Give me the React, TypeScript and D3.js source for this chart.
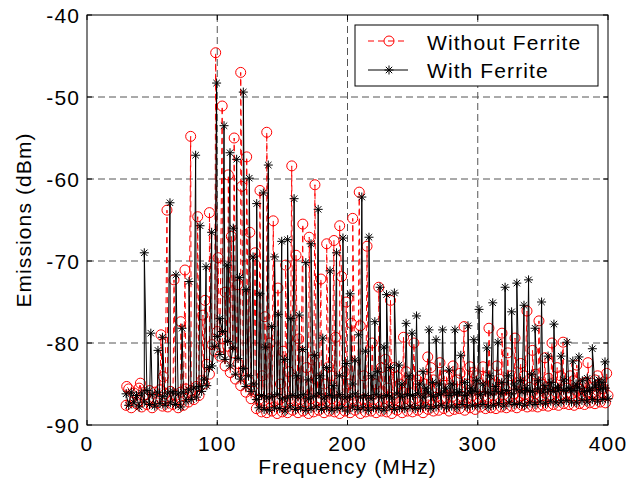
import React from "react";
import * as d3 from "d3";

// axis ticks
const xTicks = [0, 100, 200, 300, 400];
const yTicks = [-90, -80, -70, -60, -50, -40];

// noise floor, one reading every 2 MHz from 30 to 400 MHz
const floorFreqs = d3.range(30, 401, 2);

const floorWith = [
  -86.2, -87.6, -86.0, -87.3, -86.4, -87.8, -86.1, -87.2, -85.8, -87.5, -86.3, -87.7, -86.0, -87.4, -86.5,
  -87.6, -86.1, -87.3, -85.9, -87.5, -86.2, -87.8, -86.0, -87.1, -85.7, -86.9, -85.5, -86.6, -85.3, -85.9,
  -84.4, -85.2, -83.0, -82.8, -80.4,
  -79.2, -81.4, -78.6, -82.0, -79.8, -82.8, -80.6, -83.8, -81.9, -84.4, -83.1, -85.3, -84.0, -85.9, -85.0,
  -86.9, -87.9, -86.4, -88.1, -86.7, -88.2, -86.5, -87.9, -86.3, -88.0, -86.8, -88.3, -86.6, -87.8, -86.4,
  -88.1, -86.6, -87.9, -86.3, -88.2, -86.8, -88.0, -86.5, -87.8, -86.2, -88.1, -86.7, -87.9, -86.4, -88.2,
  -86.6, -88.0, -86.3, -87.9, -86.7, -88.3, -86.5, -87.8, -86.2, -88.1, -86.6, -87.9, -86.4, -88.2, -86.8,
  -87.9, -86.3, -88.0, -86.6, -88.2, -86.4, -87.8, -86.7, -88.1, -86.2, -87.9, -86.5, -88.0, -86.3, -87.8,
  -86.4, -88.0, -86.2, -87.9, -86.6, -87.7, -86.1, -88.0, -86.5, -87.8, -86.3, -87.6, -86.0, -87.9, -86.4,
  -87.7, -86.2, -87.9, -86.0, -87.5, -86.4, -87.8, -86.1, -87.6, -85.9, -87.7, -86.3, -87.5, -86.0, -87.8,
  -86.2, -87.6, -85.9, -87.4, -86.1, -87.7, -85.8, -87.3, -86.2, -87.5, -85.7, -87.4, -86.0, -87.6, -85.8,
  -87.3, -85.9, -87.5, -85.6, -87.2, -86.0, -87.4, -85.7, -87.1, -85.9, -87.3, -85.5, -87.2, -85.8, -87.0,
  -85.6, -87.2, -85.8, -87.3, -85.5, -87.0, -85.9, -87.2, -85.6, -86.9, -85.4, -87.1, -85.7, -86.9, -85.5,
  -86.8,
];

const floorWithout = [
  -87.6, -85.6, -87.9, -86.1, -87.4, -85.5, -87.8, -86.3, -87.5, -85.8, -87.9, -86.0, -87.3, -85.7, -87.7,
  -86.2, -87.8, -85.9, -87.5, -86.4, -87.9, -86.0, -87.6, -85.6, -87.2, -85.8, -86.9, -85.3, -86.4, -84.6,
  -85.0, -82.6, -83.8, -80.2, -81.0,
  -78.6, -81.6, -79.5, -82.8, -80.4, -83.6, -81.2, -84.4, -82.5, -85.2, -83.4, -86.0, -84.6, -86.8, -85.9,
  -88.0, -86.9, -88.4, -87.0, -88.5, -86.8, -88.3, -87.1, -88.6, -86.9, -88.4, -87.2, -88.5, -86.8, -88.2,
  -87.0, -88.5, -86.9, -88.3, -87.2, -88.6, -86.8, -88.4, -87.0, -88.2, -86.9, -88.5, -87.1, -88.3, -86.8,
  -88.4, -87.0, -88.6, -86.9, -88.3, -87.2, -88.5, -86.8, -88.2, -87.1, -88.6, -86.9, -88.4, -87.0, -88.3,
  -86.9, -88.5, -87.1, -88.3, -86.8, -88.4, -87.0, -88.6, -86.9, -88.2, -87.2, -88.5, -86.8, -88.3, -87.0,
  -88.4, -86.8, -88.2, -87.0, -88.5, -86.7, -88.1, -86.9, -88.3, -86.6, -88.2, -86.8, -88.0, -86.7, -88.3,
  -86.6, -88.1, -86.9, -88.0, -86.5, -88.2, -86.7, -87.9, -86.4, -88.1, -86.8, -87.8, -86.5, -88.0, -86.6,
  -87.9, -86.4, -88.0, -86.7, -87.8, -86.3, -87.9, -86.6, -87.7, -86.2, -87.9, -86.5, -87.6, -86.3, -87.8,
  -86.4, -87.7, -86.2, -87.8, -86.5, -87.6, -86.1, -87.7, -86.4, -87.5, -86.0, -87.6, -86.3, -87.4, -86.1,
  -87.5, -86.2, -87.6, -85.9, -87.4, -86.3, -87.5, -86.0, -87.3, -86.2, -87.4, -85.8, -87.2, -86.1, -87.3,
  -86.4,
];

// emission peaks [MHz, dBm]
const peaksWith: [number, number][] = [
  [44, -69.0], [49, -78.8], [54.5, -80.9], [58, -79.3], [63.7, -62.9], [68.3, -71.7], [73, -78.2],
  [78.3, -72.5], [83.4, -57.1], [86.8, -65.7], [91.4, -70.7], [95.7, -66.5], [99.5, -48.3], [102, -77.0],
  [105.2, -53.5], [107.5, -70.5], [109.8, -56.8], [112.3, -66.0], [114.9, -57.6], [117.2, -72.0],
  [120, -49.4], [122.2, -73.5], [124.6, -59.9], [127.5, -69.5], [130.3, -63.0], [132.8, -74.0],
  [135.4, -61.7], [137, -80.5], [139.2, -58.3], [141.8, -78.0], [144, -69.5], [146.8, -76.5],
  [149.5, -67.6], [151.8, -82.0], [154, -67.4], [156.5, -77.0], [159, -62.4], [161, -84.0], [163, -76.6],
  [165.5, -80.8], [168, -70.2], [170, -84.5], [172, -67.9], [174.8, -81.5], [177.5, -63.7], [179, -84.0],
  [181, -79.4], [184, -83.0], [186.6, -71.2], [189, -85.2], [191.6, -69.0], [193.8, -84.0], [196.5, -67.2],
  [199, -82.5], [202, -74.0], [204, -85.0], [205.8, -82.1], [208.5, -79.0], [211, -62.2], [213.8, -81.0],
  [216.5, -67.1], [218.8, -84.0], [221, -77.4], [223, -83.5], [225, -73.2], [228, -80.5], [230, -74.1],
  [233, -83.0], [236, -73.9], [239.5, -82.7], [241.8, -85.0], [245, -77.6], [247.3, -84.0], [249.5, -78.8],
  [253, -76.7], [255.5, -85.0], [258, -83.5], [260.3, -85.5], [262.6, -78.4], [265.3, -84.8], [268, -79.6],
  [270.5, -85.0], [273, -78.4], [275.5, -85.5], [278, -83.3], [280.3, -85.0], [282.5, -78.4], [284.8, -86.0],
  [287, -81.5], [290, -84.8], [292.5, -77.9], [294.8, -85.5], [297, -79.6], [299, -84.6], [301, -75.9],
  [304, -85.0], [307, -80.6], [309.3, -84.0], [311.5, -75.1], [313.5, -85.3], [315.5, -79.9], [318.5, -84.8],
  [321, -73.2], [323.5, -84.0], [326, -76.2], [328, -85.0], [330, -72.7], [332.8, -84.6], [335.5, -75.4],
  [337, -85.5], [339, -72.3], [341.5, -83.8], [344, -78.2], [346.5, -84.6], [349, -75.0], [351.5, -85.2],
  [354, -81.6], [356.3, -84.8], [358.5, -77.7], [361.3, -85.4], [364, -81.6], [366.3, -84.5], [368.5, -79.9],
  [371, -85.6], [373, -82.2], [375.5, -85.0], [377.7, -81.7], [380.3, -84.6], [384, -84.3], [386, -85.8],
  [388, -80.7], [390.5, -85.0], [393, -84.5], [395.3, -84.8], [397.7, -82.3],
];

const peaksWithout: [number, number][] = [
  [30.5, -85.3], [41, -84.9], [56.8, -79.0], [58.6, -84.1], [61.4, -63.8], [66.8, -72.3], [72, -77.4],
  [75.2, -71.1], [79.6, -54.8], [85, -64.6], [89, -76.6], [90.6, -74.8], [94, -64.1], [98.8, -44.6],
  [100.6, -69.6], [103.8, -51.1], [106, -73.8], [108.5, -59.5], [110.8, -67.0], [113, -55.0],
  [115.6, -72.9], [118, -47.0], [118.8, -60.9], [122.6, -57.3], [125, -66.5], [129, -69.0],
  [132.8, -61.4], [134.5, -84.0], [136.6, -76.8], [138, -54.3], [140.5, -80.0], [143, -65.1],
  [146.6, -73.3], [148.5, -85.0], [150.5, -81.0], [152.5, -70.5], [155, -83.5], [157.2, -58.4],
  [160.5, -69.3], [162.5, -79.5], [165.7, -65.5], [168.5, -83.0], [170.6, -67.1], [172.8, -82.0],
  [175, -60.7], [177, -84.5], [179.6, -72.2], [182, -85.0], [184, -67.9], [185.5, -82.9], [187.5, -84.0],
  [189.6, -67.5], [190.8, -79.3], [194, -65.7], [195.5, -71.9], [197.5, -83.5], [199, -75.0], [201, -85.0],
  [203, -77.6], [204, -64.8], [209, -61.6], [209.8, -77.9], [212.5, -84.0], [215, -68.2], [219, -80.0],
  [221.5, -85.0], [224, -73.2], [226, -83.0], [229, -82.0], [231, -85.5], [233, -74.8], [235.5, -83.0],
  [238, -84.1], [240.5, -85.0], [243, -79.3], [245, -83.5], [247, -85.0], [251, -80.0], [253.5, -84.5],
  [256, -84.0], [259, -85.0], [261.6, -81.7], [264, -83.0], [266, -84.5], [268.5, -85.5], [271, -82.4],
  [274, -84.0], [276, -84.0], [278.5, -85.5], [281, -82.8], [284, -84.5], [286.5, -83.7], [289.5, -78.0],
  [291.8, -85.0], [294, -82.9], [296.5, -83.6], [299, -84.0], [301.5, -85.5], [304, -82.9], [306.5, -84.2],
  [308.6, -78.2], [311.5, -85.0], [314.7, -82.8], [316.5, -84.4], [318.6, -78.8], [321, -85.6], [323, -81.2],
  [326, -84.0], [328.6, -79.4], [331, -85.2], [333, -82.5], [335.5, -84.0], [337.8, -76.1], [340, -85.4],
  [342, -80.9], [344.5, -83.8], [347, -77.3], [349.5, -85.0], [351.6, -81.8], [354.5, -84.3], [357, -80.0],
  [359, -85.4], [361, -83.0], [363.5, -84.0], [365.5, -79.9], [368, -85.5], [371, -84.0], [373.5, -84.6],
  [376, -82.7], [378, -85.6], [380, -85.0], [382.5, -84.8], [384.6, -82.4], [387.5, -85.4], [390, -84.5],
  [392, -84.0], [394, -85.0], [396.5, -85.6], [399, -83.7],
];

const seriesNames = ["Without Ferrite", "With Ferrite"];

const buildSeries = (floor: number[], peaks: [number, number][]) =>
  floorFreqs
    .map((f, i) => [f, floor[i]] as [number, number])
    .concat(peaks)
    .sort((a, b) => a[0] - b[0]);

const W = 636;
const H = 481;
const left = 87, right = 608, top = 15, bottom = 425;

const font = "'Liberation Sans', Arial, Helvetica, sans-serif";
const textStyle = { fontFamily: font, fontSize: 21, letterSpacing: 1.1 };

const star = "M-4.5,0H4.5M0,-4.5V4.5M-3.2,-3.2L3.2,3.2M-3.2,3.2L3.2,-3.2";

export default function App() {
  const x = d3.scaleLinear().domain([0, 400]).range([left, right]);
  const y = d3.scaleLinear().domain([-90, -40]).range([bottom, top]);
  const line = d3.line<[number, number]>().x(d => x(d[0])).y(d => y(d[1]));

  const red = buildSeries(floorWithout, peaksWithout);
  const black = buildSeries(floorWith, peaksWith);

  return (
    <svg width={W} height={H} style={{ position: "absolute", left: 0, top: 0, background: "#fff" }}>
      <rect x={0} y={0} width={W} height={H} fill="#fff" />
      {/* grid */}
      <g stroke="#555" strokeWidth={1} strokeDasharray="7,4">
        {xTicks.slice(1, -1).map(t => (
          <line key={"gx" + t} x1={x(t)} x2={x(t)} y1={top} y2={bottom} />
        ))}
        {yTicks.slice(1, -1).map(t => (
          <line key={"gy" + t} x1={left} x2={right} y1={y(t)} y2={y(t)} />
        ))}
      </g>

      {/* without ferrite */}
      <path d={line(red) || ""} fill="none" stroke="#ff0000" strokeWidth={1} strokeDasharray="6,4" />
      <g fill="none" stroke="#ff0000" strokeWidth={1}>
        {red.map((d, i) => (
          <circle key={i} cx={x(d[0])} cy={y(d[1])} r={5} />
        ))}
      </g>

      {/* with ferrite */}
      <path d={line(black) || ""} fill="none" stroke="#000" strokeWidth={1} />
      <g stroke="#000" strokeWidth={1}>
        {black.map((d, i) => (
          <path key={i} d={star} transform={`translate(${x(d[0])},${y(d[1])})`} />
        ))}
      </g>

      {/* axes box and ticks */}
      <rect x={left} y={top} width={right - left} height={bottom - top} fill="none" stroke="#000" strokeWidth={1} />
      <g stroke="#000" strokeWidth={1}>
        {xTicks.map(t => (
          <g key={"tx" + t}>
            <line x1={x(t)} x2={x(t)} y1={bottom} y2={bottom - 5} />
            <line x1={x(t)} x2={x(t)} y1={top} y2={top + 5} />
          </g>
        ))}
        {yTicks.map(t => (
          <g key={"ty" + t}>
            <line x1={left} x2={left + 5} y1={y(t)} y2={y(t)} />
            <line x1={right} x2={right - 5} y1={y(t)} y2={y(t)} />
          </g>
        ))}
      </g>
      <g style={textStyle} fill="#000">
        {xTicks.map(t => (
          <text key={"lx" + t} x={x(t)} y={451} textAnchor="middle">{t}</text>
        ))}
        {yTicks.map(t => (
          <text key={"ly" + t} x={80} y={y(t) + 8} textAnchor="end">{t}</text>
        ))}
        <text x={(left + right) / 2} y={474} textAnchor="middle">Frequency (MHz)</text>
        <text transform={`translate(31,${(top + bottom) / 2}) rotate(-90)`} textAnchor="middle">Emissions (dBm)</text>
      </g>

      {/* legend */}
      <g>
        <rect x={355} y={25} width={243} height={61} fill="#fff" stroke="#000" strokeWidth={1} />
        <line x1={368} x2={408} y1={41} y2={41} stroke="#ff0000" strokeDasharray="6,4" />
        <circle cx={389} cy={41} r={5} fill="none" stroke="#ff0000" />
        <line x1={368} x2={408} y1={70} y2={70} stroke="#000" />
        <path d={star} transform="translate(389,70)" stroke="#000" />
        <text x={427} y={50} style={textStyle}>{seriesNames[0]}</text>
        <text x={427} y={78} style={textStyle}>{seriesNames[1]}</text>
      </g>
    </svg>
  );
}
